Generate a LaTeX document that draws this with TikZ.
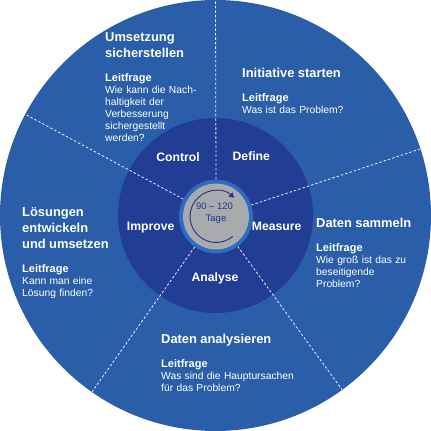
\documentclass[tikz,border=0pt]{standalone}
\usepackage{fontspec}
\setmainfont{Liberation Sans}
\usetikzlibrary{calc,arrows.meta}
\definecolor{outerblue}{HTML}{2A5EA8}
\definecolor{darkblue}{HTML}{213E94}
\definecolor{ringblue}{HTML}{2D6CC0}
\definecolor{centergray}{HTML}{A9AAAD}
\definecolor{navytext}{HTML}{1E3587}
\tikzset{
  dashline/.style={white, line width=0.8pt, dash pattern=on 2.5pt off 2pt, opacity=0.9},
  phase/.style={anchor=base, inner sep=0pt, text=white, font=\fontsize{12.2}{14}\selectfont\bfseries},
  block/.style={anchor=base west, inner sep=0pt, text=white, text width=160pt, align=left},
  centertext/.style={anchor=base, inner sep=0pt, text=navytext, font=\fontsize{9.5}{11}\selectfont},
}
\newcommand{\blocktitle}[1]{{\fontsize{12.9}{16}\selectfont\bfseries #1\par}\vspace{12pt}}
\newcommand{\blockbody}[1]{\fontsize{10.3}{12}\selectfont\mdseries{\fontsize{11}{12}\selectfont\bfseries Leitfrage}\\ #1\par}
\begin{document}
\begin{tikzpicture}[x=1pt,y=1pt]
\useasboundingbox (0,0) rectangle (431,431);
\coordinate (C) at (215.5,215.5);
\coordinate (G) at (216,214.5);
% discs
\fill[outerblue] (C) circle[radius=215.5];
\fill[darkblue] (C) circle[radius=97.5];
% dashed radial lines
\foreach \a/\n in {90/a,18/b,-54/c,-125/d,152/e}{
  \coordinate (s\n) at ($(G)+(\a:37)$);
  \coordinate (t\n) at ($(C)+(\a:215)$);
  \draw[dashline] (s\n) -- (t\n);
}
% centre
\fill[ringblue] (G) circle[radius=37];
\fill[centergray] (G) circle[radius=33];
\coordinate (arcstart) at ($(G)+(-50:26)$);
\draw[navytext, line width=0.9pt, -{Triangle[length=5pt,width=5.5pt]}]
  (arcstart) arc[start angle=-50, end angle=-314, radius=26];
\node[centertext] (days) at (214.5,221) {90 – 120};
\node[centertext] (tage) at (216,209.5) {Tage};
% phase labels
\node[phase] (control) at (178,269) {Control};
\node[phase] (define) at (251.3,270) {Define};
\node[phase] (measure) at (276.7,200.6) {Measure};
\node[phase] (improve) at (150.7,200.6) {Improve};
\node[phase] (analyse) at (215,149.9) {Analyse};
% outer text blocks
\node[block] (b1) at (105,389.7) {\blocktitle{Umsetzung\\sicherstellen}\blockbody{Wie kann die Nach-\\haltigkeit der\\Verbesserung\\sichergestellt\\werden?}};
\node[block] (b2) at (242,353.5) {\blocktitle{Initiative starten}\blockbody{Was ist das Problem?}};
\node[block] (b3) at (316,203.5) {\blocktitle{Daten sammeln}\blockbody{Wie groß ist das zu\\beseitigende\\Problem?}};
\node[block] (b4) at (22,214.5) {\blocktitle{Lösungen\\entwickeln\\und umsetzen}\blockbody{Kann man eine\\Lösung finden?}};
\node[block] (b5) at (161,87.5) {\blocktitle{Daten analysieren}\blockbody{Was sind die Hauptursachen\\für das Problem?}};
\end{tikzpicture}
\end{document}
